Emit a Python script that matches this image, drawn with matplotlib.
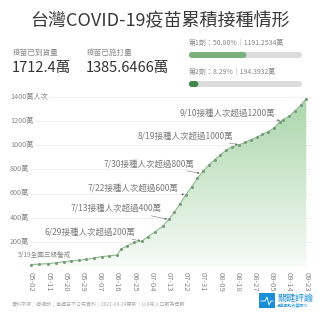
import numpy as np
import pandas as pd
import matplotlib
matplotlib.use("Agg")
import matplotlib.pyplot as plt
import matplotlib.dates as mdates
from matplotlib.patches import FancyBboxPatch, Rectangle
from matplotlib.colors import LinearSegmentedColormap

plt.rcParams['font.family'] = ['Noto Sans CJK TC', 'DejaVu Sans']

# 累積接種人次（萬）
dates = ["05-02", "05-06", "05-11", "05-15", "05-19", "05-23", "05-27", "05-31",
         "06-04", "06-08", "06-12", "06-16", "06-18", "06-21", "06-25", "06-29",
         "07-02", "07-06", "07-10", "07-13", "07-16", "07-19", "07-22", "07-25",
         "07-28", "07-31", "08-03", "08-06", "08-09", "08-12", "08-15", "08-19",
         "08-22", "08-25", "08-28", "08-31", "09-03", "09-06", "09-09", "09-11",
         "09-14", "09-17", "09-20", "09-23"]
doses = [12, 15, 20, 26, 35, 42, 48, 55,
         65, 78, 84, 90, 140, 165, 195, 207,
         240, 285, 330, 385, 445, 515, 590, 655,
         725, 785, 835, 880, 918, 960, 985, 1003,
         1025, 1045, 1065, 1090, 1112, 1142, 1190, 1212,
         1240, 1282, 1330, 1385.6]

yticks = [200, 400, 600, 800, 1000, 1200, 1400]
ytick_labels = ["200萬", "400萬", "600萬", "800萬", "1000萬", "1200萬", "1400萬人次"]

notes = [("05-19", "5/19全國三級警戒"),
         ("06-29", "6/29接種人次超過200萬"),
         ("07-13", "7/13接種人次超過400萬"),
         ("07-22", "7/22接種人次超過600萬"),
         ("07-30", "7/30接種人次超過800萬"),
         ("08-19", "8/19接種人次超過1000萬"),
         ("09-10", "9/10接種人次超過1200萬")]

dose1_pct, dose1_amt = 50.80, "1191.2534"
dose2_pct, dose2_amt = 8.29, "194.3932"

x = pd.to_datetime(["2021-" + d for d in dates])
y = np.array(doses)

W = 320
def fx(px):
    return px / W
def fy(py):
    return 1 - py / W

fig = plt.figure(figsize=(3.2, 3.2), dpi=100)
fig.patch.set_facecolor("white")

# 標題與統計數字
fig.text(0.5, fy(21), "台灣COVID-19疫苗累積接種情形", ha="center", va="center",
         fontsize=13, color="#3a3a3a")
fig.text(fx(13), fy(53), "疫苗已到貨量", fontsize=5.5, color="#888888", va="center")
fig.text(fx(12), fy(68), "1712.4萬", fontsize=10.5, color="#333333", va="center")
fig.text(fx(87), fy(53), "疫苗已施打量", fontsize=5.5, color="#888888", va="center")
fig.text(fx(86), fy(68), "1385.6466萬", fontsize=10.5, color="#333333", va="center")

fig.text(fx(189), fy(43), f"第1劑：{dose1_pct:.2f}%｜{dose1_amt}萬", fontsize=5,
         color="#888888", va="center")
fig.text(fx(189), fy(72), f"第2劑：{dose2_pct:.2f}%｜{dose2_amt}萬", fontsize=5,
         color="#888888", va="center")

def progress(y_c, pct, color):
    x0, x1, h = 189, 302, 6
    bg = FancyBboxPatch((fx(x0), fy(y_c + h / 2)), fx(x1 - x0), h / W,
                        boxstyle="round,pad=0,rounding_size=0.009",
                        transform=fig.transFigure, facecolor="#dcdcdc",
                        edgecolor="none")
    fig.patches.append(bg)
    fg = FancyBboxPatch((fx(x0), fy(y_c + h / 2)), fx((x1 - x0) * pct / 100), h / W,
                        boxstyle="round,pad=0,rounding_size=0.009",
                        transform=fig.transFigure, facecolor=color,
                        edgecolor="none")
    fig.patches.append(fg)

progress(55, dose1_pct, "#7ab27d")
progress(84, dose2_pct, "#3f8a4a")

# 主圖
ax = fig.add_axes([fx(10), fy(266), fx(302), 174 / W])
start = pd.Timestamp("2021-05-02")
for s in ax.spines.values():
    s.set_visible(False)
ax.axhline(0, color="#bbbbbb", lw=0.6, ls=(0, (2, 2)), zorder=1)
for t, lab in zip(yticks, ytick_labels):
    ax.axhline(t, color="#eeeeee", lw=0.6, zorder=0)
    ax.text(0.0, t, lab, transform=ax.get_yaxis_transform(), fontsize=5.2,
            color="#888888", va="center", ha="left", zorder=2,
            bbox=dict(facecolor="white", edgecolor="none", pad=1.2))
ax.set_yticks([])

ticks = pd.date_range(start, periods=17, freq="9D")
ax.set_xticks(ticks)
ax.set_xticklabels([t.strftime("%m-%d") for t in ticks], rotation=-90,
                   fontsize=5.5, color="#888888")
ax.tick_params(axis="x", length=0, pad=4)

xn = mdates.date2num(x)
poly = ax.fill_between(xn, y, 0, facecolor="none", edgecolor="none")
cmap = LinearSegmentedColormap.from_list("g", ["#f6fbf6", "#aad6ab"])
grad = np.linspace(0, 1, 256).reshape(-1, 1)
img = ax.imshow(grad, cmap=cmap, aspect="auto", origin="lower",
                extent=[xn[0], xn[-1], 0, y.max()], zorder=1)
img.set_clip_path(poly.get_paths()[0], transform=ax.transData)
ax.set_xlim(start - pd.Timedelta(days=11), start + pd.Timedelta(days=147))
ax.set_ylim(0, 1440)
ax.plot(xn, y, color="#8cbf8e", lw=0.8, zorder=3)
ax.plot(xn, y, ls="none", marker="o", ms=1.2, color="#7a9a7c", zorder=3)

# 註記
note_fs = [4.8, 6.1, 6.1, 6.1, 6.1, 6.1, 6.1]
note_off = [(-46, 7), (-97, 9), (-98, 11), (-98, 7), (-98, 10), (-102, 9), (-102, 8)]
for (d, txt), fs, (dx, dy) in zip(notes, note_fs, note_off):
    xd = pd.Timestamp("2021-" + d)
    yd = np.interp(mdates.date2num(xd), xn, y)
    if fs < 5:
        ax.annotate(txt, xy=(xd, yd), xytext=(dx, dy), textcoords="offset pixels",
                    fontsize=fs, color="#888888", va="center", ha="left",
                    arrowprops=dict(arrowstyle="-", color="#888888", lw=0.4))
    else:
        ax.annotate(txt, xy=(xd, yd), xytext=(dx, dy), textcoords="offset pixels",
                    fontsize=fs, color="#7a7a7a", va="center", ha="left", zorder=4,
                    arrowprops=dict(arrowstyle="-|>", color="#777777", lw=0.4,
                                    mutation_scale=3, shrinkA=0, shrinkB=1))

# 頁尾
fig.text(fx(12), fy(304), "資料來源：衛福部；每週日不公布資料｜2021-09-24更新｜以8月人口數為母數",
         fontsize=3.6, color="#aaaaaa", va="center")
fig.patches.append(Rectangle((fx(259), fy(308)), fx(16), 15 / W,
                             transform=fig.transFigure, facecolor="#1a8fd6",
                             edgecolor="none"))
fig.lines.append(plt.Line2D([fx(261), fx(265), fx(267), fx(269), fx(271), fx(273)],
                            [fy(301), fy(301), fy(297), fy(305), fy(301), fy(301)],
                            transform=fig.transFigure, color="white", lw=0.6))
fig.text(fx(277), fy(298), "關鍵評論", fontsize=6.5, color="#1a8fd6", va="center")
fig.text(fx(277), fy(306), "分享觀點改變時代", fontsize=2.8, color="#1a8fd6", va="center")

fig.savefig("out.png", dpi=100)
